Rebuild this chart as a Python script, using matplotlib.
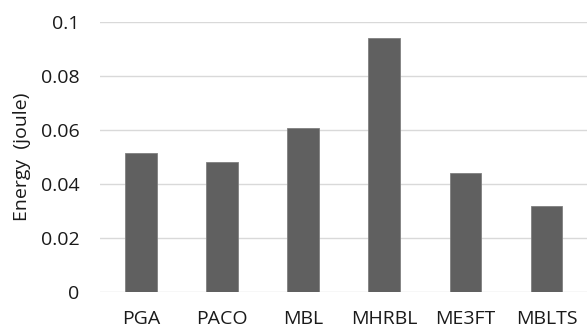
import matplotlib
matplotlib.use("Agg")
import matplotlib.pyplot as plt

methods = ["PGA", "PACO", "MBL", "MHRBL", "ME3FT", "MBLTS"]
energy = [0.0515, 0.0482, 0.0607, 0.0941, 0.0442, 0.0320]

plt.rcParams['font.family'] = ['Open Sans', 'DejaVu Sans']

fig = plt.figure(figsize=(5.87, 3.33), dpi=100)
ax = fig.add_axes([0.171, 0.122, 0.829, 0.812])

ax.bar(methods, energy, width=0.39, color="#606060", edgecolor="#808080", linewidth=0.6, zorder=3)

ax.set_ylim(0, 0.1)
ax.set_xlim(-0.5, len(methods) - 0.5)
ax.set_yticks([0, 0.02, 0.04, 0.06, 0.08, 0.1])
ax.set_yticklabels(["0", "0.02", "0.04", "0.06", "0.08", "0.1"])
ax.grid(axis="y", color="#d9d9d9", linewidth=1.0, zorder=0)
ax.set_axisbelow(True)
for s in ax.spines.values():
    s.set_visible(False)
ax.tick_params(length=0, labelsize=14, colors="#1a1a1a")
ax.tick_params(axis="y", pad=15)
ax.tick_params(axis="x", pad=13)
ax.set_ylabel("Energy  (joule)", fontsize=14, color="#1a1a1a")
ax.yaxis.set_label_coords(-0.142, 0.5)

fig.savefig("out.png", dpi=100)
